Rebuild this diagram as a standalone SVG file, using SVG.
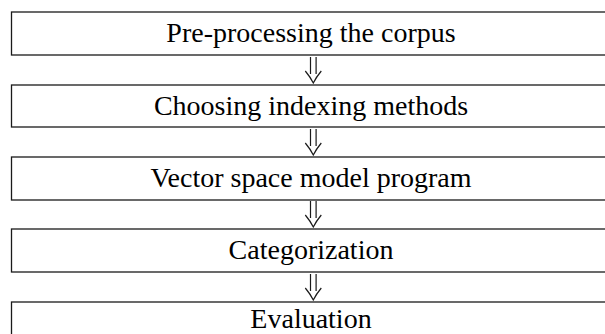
<svg xmlns="http://www.w3.org/2000/svg" width="605" height="334" viewBox="0 0 605 334">
<style>
.box{fill:#fff;stroke:#1a1a1a;stroke-width:1.3}
.lbl{font-family:"Liberation Serif","Times New Roman",serif;font-size:28px;fill:#000;text-anchor:middle}
.arr{fill:none;stroke:#1a1a1a;stroke-width:1.2}
</style>
<defs>
<path id="dar" class="arr" d="M-2.8,-26 V-9 M2.8,-26 V-9 M-8,-12 Q-3,-6 0,0 Q3,-6 8,-12"/>
</defs>
<rect width="605" height="334" fill="#fff"/>
<g id="connectors">
<use href="#dar" transform="translate(313.3,83)"/>
<use href="#dar" transform="translate(313.3,155)"/>
<use href="#dar" transform="translate(313.3,227)"/>
<use href="#dar" transform="translate(313.3,300)"/>
</g>
<g id="n1"><rect class="box" x="11.5" y="12" width="601" height="43"/><text class="lbl" x="311" y="42">Pre-processing the corpus</text></g>
<g id="n2"><rect class="box" x="11.5" y="85" width="601" height="42"/><text class="lbl" x="311" y="115">Choosing indexing methods</text></g>
<g id="n3"><rect class="box" x="11.5" y="157" width="601" height="43"/><text class="lbl" x="311" y="187">Vector space model program</text></g>
<g id="n4"><rect class="box" x="11.5" y="229" width="601" height="43"/><text class="lbl" x="311" y="259">Categorization</text></g>
<g id="n5"><rect class="box" x="11.5" y="302" width="601" height="43"/><text class="lbl" x="311" y="328">Evaluation</text></g>
</svg>
